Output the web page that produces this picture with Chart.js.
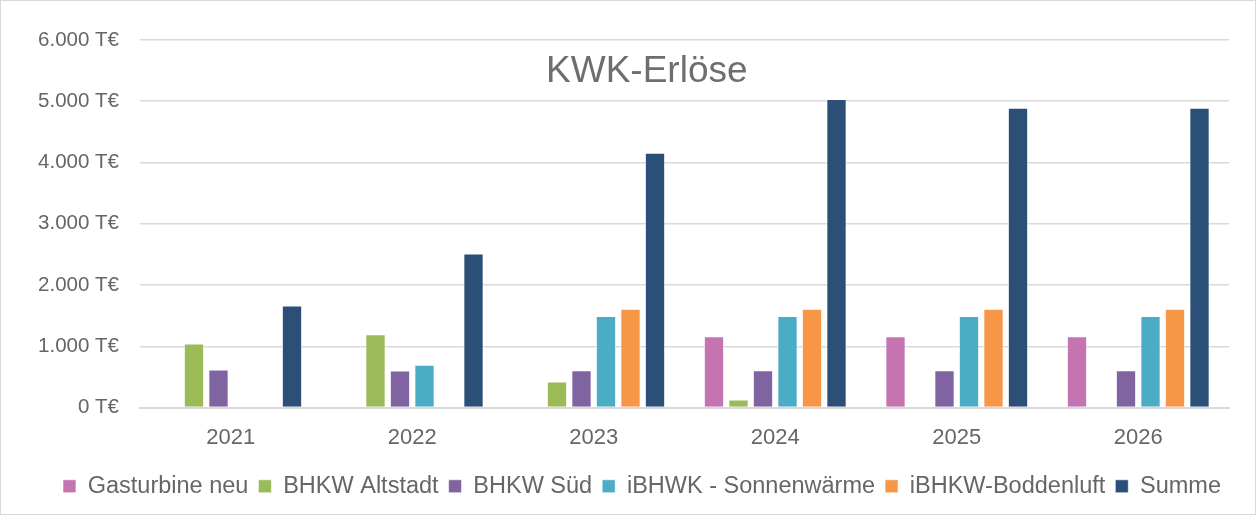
<!DOCTYPE html>
<html>
<head>
<meta charset="utf-8">
<script src="https://cdn.jsdelivr.net/npm/chart.js@4"></script>
<style>
  html, body { margin: 0; padding: 0; background: #fff; }
  #wrap { position: relative; width: 1254px; height: 513px; border: 1px solid #d9d9d9; }
  canvas { display: block; }
</style>
</head>
<body>
<div id="wrap"><canvas id="chart-kwk" width="1254" height="513"></canvas></div>
<script>
// Daten (T€)
const jahre = ['2021', '2022', '2023', '2024', '2025', '2026'];
const gasturbineNeu = [null, null, null, 1165, 1165, 1165];
const bhkwAltstadt = [1045, 1195, 425, 130, null, null];
const bhkwSued = [620, 605, 607, 607, 607, 607];
const sonnenwaerme = [null, 700, 1492, 1492, 1492, 1492];
const boddenluft = [null, null, 1612, 1612, 1612, 1612];
const summe = [1665, 2515, 4160, 5035, 4895, 4895];

const schrift = 'Liberation Sans, Arial, sans-serif';
const grau = '#666666';

function serie(label, data, color) {
  return {
    label: label,
    data: data,
    backgroundColor: color,
    borderColor: 'rgba(255,255,255,0.6)',
    borderWidth: 1,
    categoryPercentage: 0.81,
    barPercentage: 0.83
  };
}

// Titel liegt im Diagrammbereich, wie im Original
const titelPlugin = {
  id: 'titelImPlot',
  afterLayout(chart) {
    // Legende etwas nach rechts schieben
    if (chart.legend) {
      chart.legend.left += 27;
      chart.legend.right += 27;
    }
  },
  afterDraw(chart) {
    const ctx = chart.ctx;
    ctx.save();
    ctx.font = '37px ' + schrift;
    ctx.fillStyle = '#6e6e6e';
    ctx.textAlign = 'center';
    ctx.textBaseline = 'middle';
    ctx.fillText('KWK-Erlöse', chart.width * 0.515, 71);
    ctx.restore();
  }
};

const ctx = document.getElementById('chart-kwk').getContext('2d');
new Chart(ctx, {
  type: 'bar',
  data: {
    labels: jahre,
    datasets: [
      serie('Gasturbine neu', gasturbineNeu, '#C474B0'),
      serie('BHKW Altstadt', bhkwAltstadt, '#9BBB59'),
      serie('BHKW Süd', bhkwSued, '#8064A2'),
      serie('iBHWK - Sonnenwärme', sonnenwaerme, '#4BACC6'),
      serie('iBHKW-Boddenluft', boddenluft, '#F79646'),
      serie('Summe', summe, '#2C4F78')
    ]
  },
  options: {
    responsive: false,
    animation: false,
    layout: { padding: { top: 39, right: 26, bottom: 6, left: 0 } },
    plugins: {
      title: { display: false },
      tooltip: { enabled: false },
      legend: {
        position: 'bottom',
        labels: {
          color: grau,
          font: { family: schrift, size: 23.5 },
          boxWidth: 13,
          boxHeight: 13,
          padding: 10
        }
      }
    },
    scales: {
      x: {
        afterFit(scale) { scale.height = 57; },
        grid: { display: false },
        border: { color: '#d9d9d9', width: 2 },
        ticks: { color: grau, font: { family: schrift, size: 22 }, padding: 9 }
      },
      y: {
        min: 0,
        max: 6000,
        afterFit(scale) { scale.width = 139; },
        border: { display: false },
        grid: { color: '#d9d9d9', lineWidth: 1.5, drawTicks: false },
        ticks: {
          stepSize: 1000,
          color: grau,
          padding: 21,
          font: { family: schrift, size: 20.5 },
          callback: v => String(v).replace(/\B(?=(\d{3})+(?!\d))/g, '.') + ' T€'
        }
      }
    }
  },
  plugins: [titelPlugin]
});
</script>
</body>
</html>
